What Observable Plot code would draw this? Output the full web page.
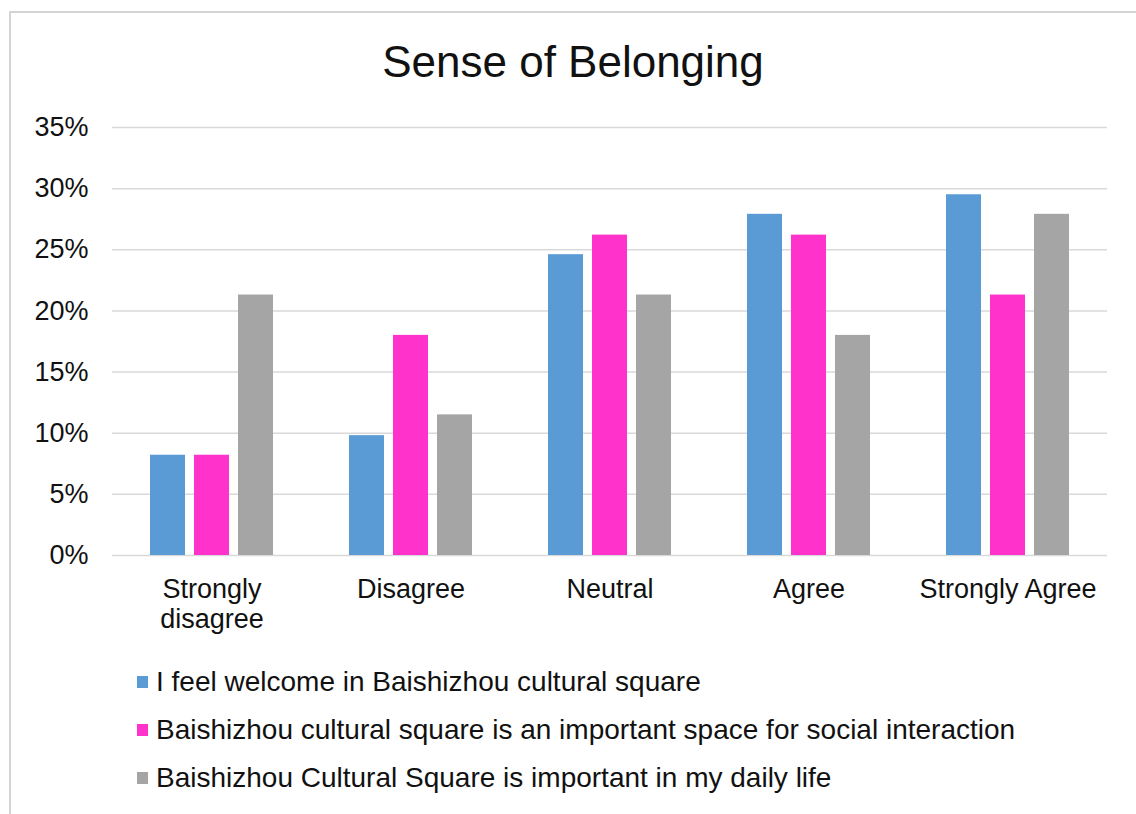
<!DOCTYPE html>
<html>
<head>
<meta charset="utf-8">
<script src="https://cdn.jsdelivr.net/npm/d3@7"></script>
<script src="https://cdn.jsdelivr.net/npm/@observablehq/plot@0.6"></script>
<style>
  html, body { margin: 0; padding: 0; background: #fff; }
  #wrap { position: relative; width: 1136px; height: 814px; overflow: hidden; font-family: "Liberation Sans", Arial, sans-serif; color: #111; }
  #frame { position: absolute; left: 9px; top: 11px; width: 1140px; height: 820px; border-top: 2px solid #d4d4d4; border-left: 2px solid #d4d4d4; }
  #title { position: absolute; left: 10px; width: 1126px; top: 36px; text-align: center; font-size: 44px; line-height: 52px; }
  #chart { position: absolute; left: 0; top: 100px; }
  #legend { position: absolute; left: 137px; top: 658px; font-size: 28px; }
  .row { display: flex; align-items: center; height: 48px; }
  .sw { width: 11px; height: 12px; margin-right: 8px; }
</style>
</head>
<body>
<div id="wrap">
  <div id="frame"></div>
  <div id="title">Sense of Belonging</div>
  <div id="chart"></div>
  <div id="legend"></div>
</div>
<script>
const categories = ["Strongly disagree", "Disagree", "Neutral", "Agree", "Strongly Agree"];
const seriesNames = [
  "I feel welcome in Baishizhou cultural square",
  "Baishizhou cultural square is an important space for social interaction",
  "Baishizhou Cultural Square is important in my daily life"
];
const colors = ["#5b9bd5", "#ff33cc", "#a5a5a5"];
const welcome = [0.082, 0.098, 0.246, 0.279, 0.295];
const social = [0.082, 0.180, 0.262, 0.262, 0.213];
const daily = [0.213, 0.115, 0.213, 0.180, 0.279];
const yTicks = [0, 0.05, 0.10, 0.15, 0.20, 0.25, 0.30, 0.35];
const tickLabels = {"Strongly disagree": "Strongly\ndisagree"};

const seriesValues = [welcome, social, daily];
const data = [];
categories.forEach((c, i) => {
  seriesNames.forEach((s, j) => data.push({category: c, series: s, value: seriesValues[j][i]}));
});

const chart = Plot.plot({
  width: 1136,
  height: 560,
  marginLeft: 110,
  marginRight: 28,
  marginTop: 27,
  marginBottom: 105,
  style: {fontFamily: "'Liberation Sans', Arial, sans-serif", color: "#111", background: "transparent"},
  fx: {domain: categories, paddingInner: 0, paddingOuter: 0},
  x: {domain: seriesNames, paddingInner: 0.21, paddingOuter: 0.86, axis: null},
  y: {domain: [0, 0.35]},
  color: {domain: seriesNames, range: colors},
  marks: [
    Plot.gridY({ticks: yTicks, stroke: "#d9d9d9", strokeOpacity: 1, strokeWidth: 1.5}),
    Plot.barY(data, {fx: "category", x: "series", y: "value", fill: "series"}),
    Plot.axisY({ticks: yTicks, tickSize: 0, tickPadding: 24, tickFormat: d3.format(".0%"), fontSize: 27, fill: "#111", label: null}),
    Plot.axisFx({anchor: "bottom", tickSize: 0, tickPadding: 21, fontSize: 27, lineHeight: 1.12, fill: "#111", label: null, tickFormat: d => tickLabels[d] || d})
  ]
});
document.getElementById("chart").appendChild(chart);

const legend = document.getElementById("legend");
seriesNames.forEach((s, j) => {
  const row = document.createElement("div");
  row.className = "row";
  const sw = document.createElement("div");
  sw.className = "sw";
  sw.style.background = colors[j];
  const t = document.createElement("span");
  t.textContent = s;
  row.appendChild(sw);
  row.appendChild(t);
  legend.appendChild(row);
});
</script>
</body>
</html>
